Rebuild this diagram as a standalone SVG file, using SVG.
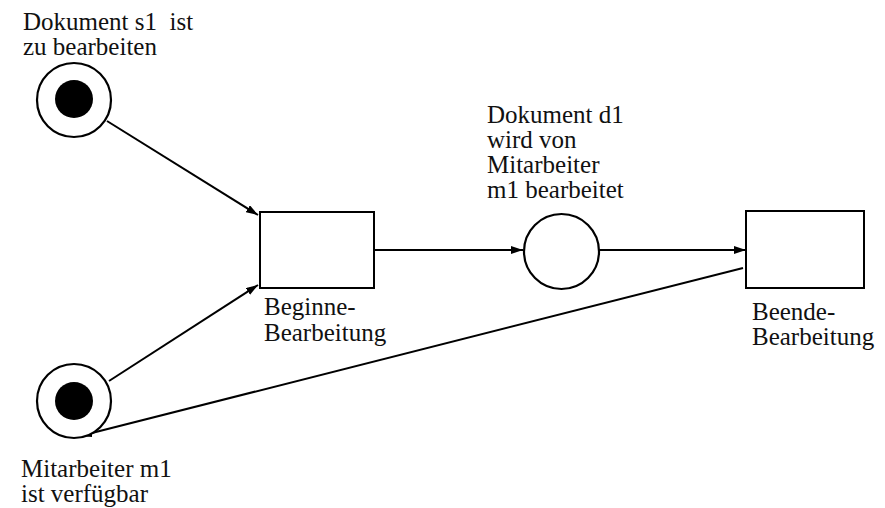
<svg xmlns="http://www.w3.org/2000/svg" width="885" height="508" viewBox="0 0 885 508">
  <style>
    .lbl { font-family: "Liberation Serif", "DejaVu Serif", "Times New Roman", serif; font-size: 25px; fill: #111; white-space: pre; }
    .place { fill: #fff; stroke: #000; stroke-width: 2.2; }
    .token { fill: #000; }
    .trans { fill: #fff; stroke: #000; stroke-width: 2; }
    .arc { fill: none; stroke: #000; stroke-width: 2; marker-end: url(#head); }
  </style>
  <defs>
    <marker id="head" viewBox="0 0 12 8" refX="12" refY="4" markerWidth="12" markerHeight="8" markerUnits="userSpaceOnUse" orient="auto">
      <path d="M0,0 L12,4 L0,8 Z" fill="#000"/>
    </marker>
  </defs>
  <rect width="885" height="508" fill="#fff"/>

  <g id="connectors">
    <line class="arc" x1="107" y1="121" x2="258" y2="215"/>
    <line class="arc" x1="109" y1="381" x2="258" y2="285"/>
    <line class="arc" x1="374" y1="250" x2="523" y2="250"/>
    <line class="arc" x1="599" y1="250" x2="746" y2="250"/>
    <line class="arc" x1="743" y1="268" x2="80" y2="436"/>
  </g>

  <g id="p-dokument-s1">
    <circle class="place" cx="74" cy="100" r="37"/>
    <circle class="token" cx="74" cy="99" r="19"/>
    <text class="lbl" x="23" y="30" xml:space="preserve">Dokument s1  ist</text>
    <text class="lbl" x="23" y="55">zu bearbeiten</text>
  </g>

  <g id="p-mitarbeiter-m1">
    <circle class="place" cx="74" cy="401" r="37"/>
    <circle class="token" cx="74" cy="401" r="19"/>
    <text class="lbl" x="21" y="477">Mitarbeiter m1</text>
    <text class="lbl" x="21" y="502">ist verfügbar</text>
  </g>

  <g id="t-beginne">
    <rect class="trans" x="260" y="212" width="114" height="76"/>
    <text class="lbl" x="264" y="315">Beginne-</text>
    <text class="lbl" x="264" y="341">Bearbeitung</text>
  </g>

  <g id="p-dokument-d1">
    <circle class="place" cx="561.5" cy="251.5" r="37.5"/>
    <text class="lbl" x="487" y="123">Dokument d1</text>
    <text class="lbl" x="487" y="148">wird von</text>
    <text class="lbl" x="487" y="173">Mitarbeiter</text>
    <text class="lbl" x="487" y="198">m1 bearbeitet</text>
  </g>

  <g id="t-beende">
    <rect class="trans" x="746" y="211" width="118" height="77"/>
    <text class="lbl" x="752" y="320">Beende-</text>
    <text class="lbl" x="752" y="345">Bearbeitung</text>
  </g>
</svg>
